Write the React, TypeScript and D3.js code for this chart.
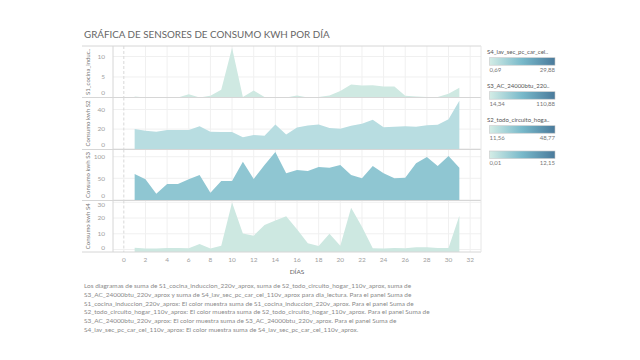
import React from "react";
import * as d3 from "d3";

const days = [1,2,3,4,5,6,7,8,9,10,11,12,13,14,15,16,17,18,19,20,21,22,23,24,25,26,27,28,29,30,31];
const s1 = [0.25,0.01,0.1,0.02,0.02,0.8,0.02,0.4,1.9,12.15,0.1,1.7,0.1,0.02,0.02,0.5,0.02,0.1,0.5,1.6,3.2,2.9,3.0,2.7,2.7,0.4,0.25,0.1,0.1,0.9,2.4];
const s2 = [20,18.3,17.3,19,19,19,23,17.3,17,17,11.8,13.9,13.2,24.7,14.6,21.7,23.7,24.7,21,20.3,23.4,25.4,29.4,22,22.3,23,22.3,24,24.4,30.1,48.77];
const s3 = [60,47.6,14.34,36.8,36.8,47.6,57.6,16.7,43.7,43.7,88.5,48.4,80.8,110.88,61.5,69.2,67,76,74.5,80.8,57.6,50,78.5,61.5,50,51.4,84.6,99.2,78.5,101.6,74.5];
const s4 = [1.16,0.69,0.69,0.9,0.9,0.8,3.5,0.7,2.4,29.88,10.2,8.8,15.5,18.5,21.2,12.8,3.9,2.2,10,2.4,26.5,14.5,0.8,0.7,1.0,0.8,1.5,1.5,0.9,1.0,21.4];

const xTicks = d3.range(0, 33, 2);
const panelTitles = ["S1_cocina_induc..", "Consumo kwh S2", "Consumo kwh S3", "Consumo kwh S4"];
const panelTicks = [[0,5,10],[0,20,40],[0,50,100],[0,10,20,30]];
const legendTitles = ["S4_lav_sec_pc_car_cel..", "S3_AC_24000btu_220..", "S2_todo_circuito_hoga..", ""];
const legendMin = ["0,69", "14,34", "11,56", "0,01"];
const legendMax = ["29,88", "110,88", "48,77", "12,15"];
const footerLines = [
  "Los diagramas de suma de S1_cocina_induccion_220v_aprox, suma de S2_todo_circuito_hogar_110v_aprox, suma de",
  "S3_AC_24000btu_220v_aprox y suma de S4_lav_sec_pc_car_cel_110v_aprox para dia_lectura.  Para el panel Suma de",
  "S1_cocina_induccion_220v_aprox:  El color muestra suma de S1_cocina_induccion_220v_aprox.  Para el panel Suma de",
  "S2_todo_circuito_hogar_110v_aprox:  El color muestra suma de S2_todo_circuito_hogar_110v_aprox.  Para el panel Suma de",
  "S3_AC_24000btu_220v_aprox:  El color muestra suma de S3_AC_24000btu_220v_aprox.  Para el panel Suma de",
  "S4_lav_sec_pc_car_cel_110v_aprox:  El color muestra suma de S4_lav_sec_pc_car_cel_110v_aprox.",
];

const FONT = "Lato, 'Open Sans', sans-serif";

export default function App() {
  const L = 113, R = 481;
  const bounds = [46, 97.5, 149.5, 200.5, 252];
  const domains: [number, number][] = [[0, 12.56], [-0.8, 52.2], [-1.4, 116.7], [-1.6, 31.15]];
  const series = [s1, s2, s3, s4];
  const fills = ["#cfe9e2", "#b8dde1", "#8fc6d2", "#cde8e1"];
  const x = d3.scaleLinear().domain([-1, 33]).range([L, R]);

  return (
    <svg width={640} height={360} style={{ position: "absolute", left: 0, top: 0, background: "#fff" }} fontFamily={FONT}>
      <defs>
        <linearGradient id="lg" x1="0" x2="1" y1="0" y2="0">
          <stop offset="0" stopColor="#d4ede6" />
          <stop offset="0.5" stopColor="#78b9ca" />
          <stop offset="1" stopColor="#4a7a9b" />
        </linearGradient>
      </defs>
      <text x={84} y={38} fontSize={9.8} fill="#666">GRÁFICA DE SENSORES DE CONSUMO KWH POR DÍA</text>

      {series.map((vals, i) => {
        const top = bounds[i], bot = bounds[i + 1];
        const y = d3.scaleLinear().domain(domains[i]).range([bot, top]);
        const area = d3.area<number>()
          .x((_, j) => x(days[j]))
          .y0(bot)
          .y1((v) => y(v));
        return (
          <g key={i}>
            {panelTicks[i].map((t) => (
              <line key={"h" + t} x1={L} x2={R} y1={y(t)} y2={y(t)} stroke="#f0f0f0" strokeWidth={1} />
            ))}
            {xTicks.map((t) => (
              <line key={"v" + t} x1={x(t)} x2={x(t)} y1={top} y2={bot} stroke={t === 0 ? "#d8d8d8" : "#f0f0f0"} strokeDasharray={t === 0 ? "3,2" : undefined} strokeWidth={1} />
            ))}
            <path d={area(vals) || ""} fill={fills[i]} />
            {panelTicks[i].map((t) => {
              const ty = Math.max(top + 4.5, Math.min(bot - 4.5, y(t)));
              return (
                <text key={"t" + t} x={105} y={ty} dy="0.35em" textAnchor="end" fontSize={6.5} fill="#a0a0a0">{t}</text>
              );
            })}
            <text transform={`translate(89.5,${(top + bot) / 2}) rotate(-90)`} textAnchor="middle" fontSize={6} fill="#777">{panelTitles[i]}</text>
          </g>
        );
      })}

      {bounds.map((b, i) => (
        <line key={"sep" + i} x1={82} x2={R} y1={b} y2={b} stroke="#d6d6d6" strokeWidth={1} />
      ))}
      <line x1={L} x2={L} y1={46} y2={252} stroke="#d6d6d6" />
      <line x1={R} x2={R} y1={46} y2={252} stroke="#e6e6e6" />

      {xTicks.map((t) => (
        <text key={"xl" + t} x={x(t)} y={259.5} dy="0.35em" textAnchor="middle" fontSize={6.5} fill="#a0a0a0">{t}</text>
      ))}
      <text x={297} y={274} textAnchor="middle" fontSize={6.5} fill="#666">DÍAS</text>

      {legendMin.map((mn, i) => {
        const baseY = [57.7, 91.7, 125.7, 151][i];
        return (
          <g key={"leg" + i}>
            {legendTitles[i] && (
              <text x={487} y={baseY - 3.5} fontSize={6} fill="#555">{legendTitles[i]}</text>
            )}
            <rect x={489.5} y={baseY} width={65.5} height={7.5} fill="url(#lg)" stroke="#c8c8c8" strokeWidth={0.6} />
            <text x={489.5} y={baseY + 14} fontSize={6} fill="#777">{mn}</text>
            <text x={555} y={baseY + 14} textAnchor="end" fontSize={6} fill="#777">{legendMax[i]}</text>
          </g>
        );
      })}

      {footerLines.map((ln, i) => (
        <text key={"f" + i} x={84} y={288 + i * 8.8} fontSize={6.45} fill="#8a8a8a">{ln}</text>
      ))}
    </svg>
  );
}
